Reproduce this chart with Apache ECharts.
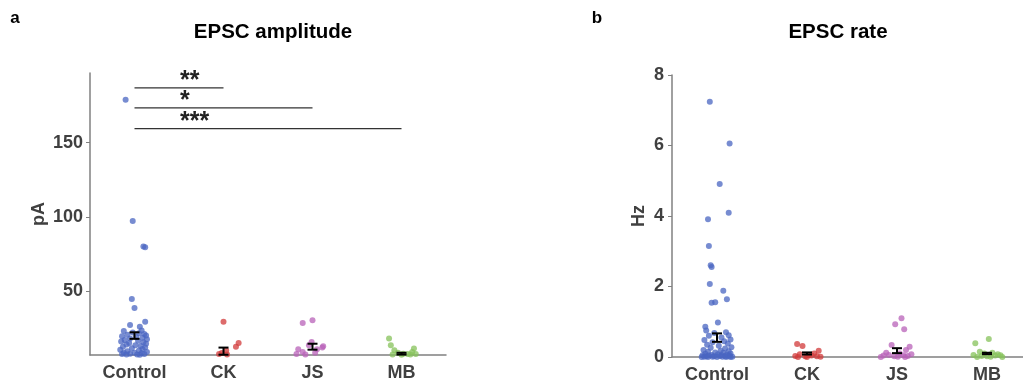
<!DOCTYPE html>
<html><head><meta charset="utf-8">
<script src="https://cdn.jsdelivr.net/npm/echarts@6/dist/echarts.min.js"></script>
<style>html,body{margin:0;padding:0;background:#fff}#c{width:1023px;height:385px}</style>
</head><body><div id="c"></div>
<script>
const categories = ['Control', 'CK', 'JS', 'MB'];

// EPSC amplitude (pA): [x jitter offset, value]
const ampControl = [[-0.10,179],[-0.02,97.3],[0.10,80],[0.12,79.5],[-0.03,44.6],[0.00,38.5],[-0.05,27.2],[0.06,25.9],[0.12,29.3],
  [-0.12,23],[0.08,23.5],[-0.02,22],[0.05,21.5],[0.11,21],[-0.08,20.5],[0.13,20],[-0.14,19.5],[0.02,19],[0.09,18.5],[-0.05,18],
  [0.14,17.5],[-0.11,17],[0.04,16.5],[-0.15,16],[0.10,15.5],[-0.06,15],[0.13,14.5],[-0.09,14],[0.01,13.5],[0.07,13],[-0.13,12.5],
  [0.12,12],[-0.03,11.5],[0.09,11],[-0.16,10.5],[0.05,10],[-0.08,9.5],[0.14,9],[-0.12,8.5],[0.00,8.5],[0.08,8],[-0.05,7.8],
  [0.11,7.5],[-0.14,7.5],[0.03,7.2],[-0.09,7.2],[0.06,7]];
const ampCK = [[0.0,29.3],[0.17,15],[0.14,12.5],[0.03,10],[-0.02,8.2],[-0.05,7.5],[0.04,7.2]];
const ampJS = [[-0.11,28.4],[0.0,30.4],[-0.04,13.5],[-0.01,15.7],[-0.16,10.8],[-0.11,9],[0.11,11.9],[0.12,12.8],[0.05,10.8],[-0.18,7.5],[-0.08,7.3],[0.03,8.5]];
const ampMB = [[-0.14,18],[-0.12,13.5],[-0.08,10.1],[0.14,11.3],[0.12,9],[-0.04,8.5],[0.02,7.8],[0.07,7.5],[-0.10,7.3],[0.10,7.2],[0.0,7.1],[0.16,7.5]];
const ampMean = [20, 9.5, 12.5, 7.8];
const ampSem = [2.2, 2.4, 2.0, 0.6];
const ampTicks = [50, 100, 150];

// EPSC rate (Hz): [x jitter offset, value]
const rateControl = [[-0.08,7.24],[0.14,6.06],[0.03,4.91],[-0.10,3.91],[0.13,4.09],[-0.09,3.15],[-0.07,2.6],[-0.06,2.55],[-0.08,2.07],
  [0.07,1.88],[-0.06,1.54],[-0.02,1.55],[0.11,1.64],[0.01,0.98],[-0.13,0.86],
  [-0.12,0.75],[0.10,0.7],[-0.03,0.68],[0.13,0.62],[-0.09,0.6],[0.05,0.55],[0.15,0.5],[-0.14,0.48],[0.08,0.45],[-0.05,0.42],
  [0.12,0.38],[-0.11,0.35],[0.02,0.32],[0.16,0.28],[-0.07,0.26],[0.09,0.24],[-0.15,0.2],[0.04,0.18],[0.13,0.16],[-0.1,0.15],
  [-0.02,0.13],[0.07,0.12],[0.15,0.1],[-0.13,0.09],[0.01,0.08],[0.11,0.07],[-0.06,0.06],[0.05,0.05],[-0.16,0.05],[0.14,0.04],
  [-0.09,0.04],[0.03,0.03],[0.09,0.03],[-0.12,0.02],[-0.03,0.02],[0.12,0.02],[0.17,0.01],[-0.14,0.01],[0.06,0.01],[-0.05,0.01],
  [0.0,0.0],[0.1,0.0],[-0.1,0.0],[0.15,0.0],[-0.17,0.0]];
const rateCK = [[-0.11,0.37],[-0.05,0.31],[0.13,0.18],[0.08,0.1],[-0.08,0.08],[0.02,0.06],[0.05,0.04],[-0.13,0.03],[0.11,0.02],[-0.02,0.02],[0.15,0.01],[-0.1,0.0],[0.0,0.0]];
const rateJS = [[0.05,1.1],[-0.02,0.93],[0.08,0.79],[-0.06,0.34],[0.14,0.29],[0.1,0.2],[-0.12,0.12],[0.03,0.1],[0.16,0.08],[-0.09,0.06],[0.07,0.05],[-0.15,0.04],[0.12,0.03],[-0.03,0.02],[0.01,0.01],[-0.18,0.0],[0.09,0.0]];
const rateMB = [[-0.13,0.39],[0.02,0.51],[-0.08,0.15],[0.06,0.12],[0.12,0.08],[-0.03,0.1],[0.15,0.05],[-0.15,0.06],[0.09,0.04],[-0.06,0.03],[0.0,0.02],[0.04,0.01],[-0.11,0.0],[0.17,0.0]];
const rateMean = [0.55, 0.1, 0.18, 0.1];
const rateSem = [0.12, 0.03, 0.07, 0.02];
const rateTicks = [0, 2, 4, 6, 8];

// significance comparisons (amplitude panel)
const sigPairs = [[1, 2], [1, 3], [1, 4]];
const sigY = [187, 173.5, 159.5];
const sigLabels = ['**', '*', '***'];

const groupColors = ['#4a66c2', '#d13a3a', '#b862b8', '#86c25a'];
const FONT = 'Liberation Sans, Arial, Helvetica, sans-serif';
const axisGray = '#808080';
const labelGray = '#404040';

const chart = echarts.init(document.getElementById('c'), null, {renderer: 'canvas'});

function scatterSeries(groups, xAxisIndex, yAxisIndex) {
  return groups.map((pts, gi) => ({
    type: 'scatter', xAxisIndex, yAxisIndex, symbolSize: 6, clip: false, z: 2,
    itemStyle: {color: groupColors[gi], opacity: 0.75},
    data: pts.map(p => [gi + 1 + p[0], p[1]])
  }));
}

function errRender(params, api) {
  const x = api.value(0), m = api.value(1), s = api.value(2);
  const top = api.coord([x, m + s]), bot = api.coord([x, m - s]);
  const w = 5;
  const st = {stroke: '#000', lineWidth: 2};
  return {type: 'group', children: [
    {type: 'line', shape: {x1: top[0], y1: top[1], x2: bot[0], y2: bot[1]}, style: st},
    {type: 'line', shape: {x1: top[0] - w, y1: top[1], x2: top[0] + w, y2: top[1]}, style: st},
    {type: 'line', shape: {x1: bot[0] - w, y1: bot[1], x2: bot[0] + w, y2: bot[1]}, style: st}
  ]};
}

function errSeries(means, sems, xAxisIndex, yAxisIndex) {
  return {
    type: 'custom', xAxisIndex, yAxisIndex, z: 5, renderItem: errRender,
    encode: {x: 0, y: 1},
    data: means.map((m, i) => [i + 1, m, sems[i]])
  };
}

const sigSeries = {
  type: 'custom', xAxisIndex: 1, yAxisIndex: 0, z: 6,
  encode: {x: [0, 1], y: 2},
  data: sigPairs.map((p, i) => [p[0], p[1], sigY[i], i]),
  renderItem: function (params, api) {
    const x1 = api.value(0), x2 = api.value(1), y = api.value(2), idx = api.value(3);
    const a = api.coord([x1, y]), b = api.coord([x2, y]);
    const t = api.coord([x1 + 0.5, y]);
    return {type: 'group', children: [
      {type: 'line', shape: {x1: a[0], y1: a[1], x2: b[0], y2: b[1]}, style: {stroke: '#333', lineWidth: 1.3}},
      {type: 'text', x: t[0] + 1, y: a[1] - 7,
        style: {text: sigLabels[idx], font: 'bold 25px ' + FONT, fill: '#222', align: 'left', verticalAlign: 'middle'}}
    ]};
  }
};

const catAxisCommon = {
  type: 'category', data: categories, boundaryGap: true,
  axisLine: {lineStyle: {color: axisGray, width: 1.5}},
  axisTick: {show: false},
  axisLabel: {color: labelGray, fontSize: 18, fontWeight: 'bold', fontFamily: FONT, margin: 9},
  splitLine: {show: false}
};
const valXCommon = {type: 'value', min: 0.5, max: 4.5, show: false, splitLine: {show: false}};

const option = {
  animation: false,
  backgroundColor: '#fff',
  grid: [
    {left: 90, top: 73, width: 356, bottom: 30, outerBoundsMode: 'none', containLabel: false},
    {left: 672, top: 75, width: 360, bottom: 28, outerBoundsMode: 'none', containLabel: false}
  ],
  xAxis: [
    Object.assign({gridIndex: 0}, catAxisCommon),
    Object.assign({gridIndex: 0}, valXCommon),
    Object.assign({gridIndex: 1}, catAxisCommon),
    Object.assign({gridIndex: 1}, valXCommon)
  ],
  yAxis: [
    {type: 'value', gridIndex: 0, min: 6.9, max: 197,
      name: 'pA', nameLocation: 'middle', nameRotate: 90, nameGap: 42,
      nameTextStyle: {color: labelGray, fontSize: 18, fontWeight: 'bold', fontFamily: FONT},
      axisLine: {show: true, lineStyle: {color: axisGray, width: 1.5}},
      axisTick: {show: true, length: 4, customValues: ampTicks, lineStyle: {color: axisGray}},
      axisLabel: {customValues: ampTicks, color: labelGray, fontSize: 18, fontWeight: 'bold', fontFamily: FONT, margin: 7},
      splitLine: {show: false}},
    {type: 'value', gridIndex: 1, min: 0, max: 8, interval: 2,
      name: 'Hz', nameLocation: 'middle', nameRotate: 90, nameGap: 24,
      nameTextStyle: {color: labelGray, fontSize: 18, fontWeight: 'bold', fontFamily: FONT},
      axisLine: {show: true, lineStyle: {color: axisGray, width: 1.5}},
      axisTick: {show: true, length: 4, customValues: rateTicks, lineStyle: {color: axisGray}},
      axisLabel: {customValues: rateTicks, color: labelGray, fontSize: 18, fontWeight: 'bold', fontFamily: FONT, margin: 8},
      splitLine: {show: false}}
  ],
  graphic: [
    {type: 'text', x: 15, y: 18, style: {text: 'a', font: 'bold 17px ' + FONT, fill: '#000', align: 'center', verticalAlign: 'middle'}},
    {type: 'text', x: 597, y: 18, style: {text: 'b', font: 'bold 17px ' + FONT, fill: '#000', align: 'center', verticalAlign: 'middle'}},
    {type: 'text', x: 273, y: 32, style: {text: 'EPSC amplitude', font: 'bold 20.5px ' + FONT, fill: '#000', align: 'center', verticalAlign: 'middle'}},
    {type: 'text', x: 838, y: 32, style: {text: 'EPSC rate', font: 'bold 20.5px ' + FONT, fill: '#000', align: 'center', verticalAlign: 'middle'}}
  ],
  series: [].concat(
    scatterSeries([ampControl, ampCK, ampJS, ampMB], 1, 0),
    scatterSeries([rateControl, rateCK, rateJS, rateMB], 3, 1),
    [errSeries(ampMean, ampSem, 1, 0), errSeries(rateMean, rateSem, 3, 1), sigSeries]
  )
};
chart.setOption(option);
</script>
</body></html>
